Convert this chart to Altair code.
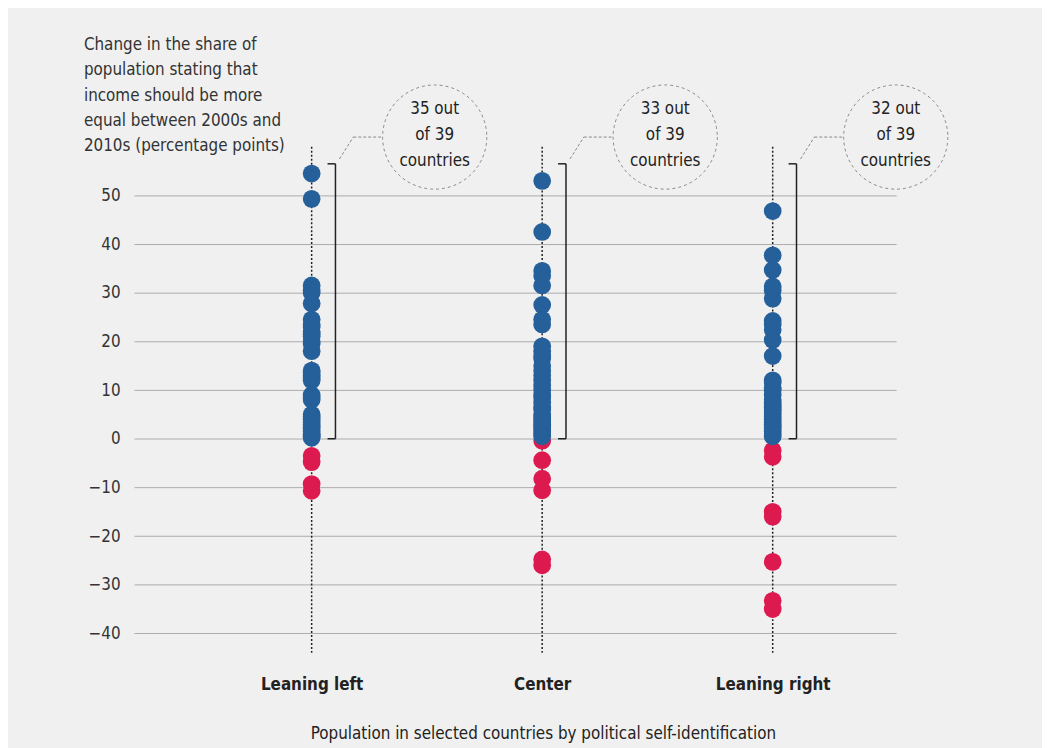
import altair as alt
import pandas as pd

FONT = "Liberation Sans Narrow, DejaVu Sans Condensed, Roboto, sans-serif"

GROUPS = ["Leaning left", "Center", "Leaning right"]

LEFT_VALUES = [54.5, 49.3, 31.5, 30.5, 30, 27.8, 24.5, 23.5, 23, 22, 21.5, 21, 20, 19.5, 18,
               14, 13.5, 13, 12.5, 12, 9, 8.5, 8, 5, 4.5, 4, 3.5, 3, 2.5, 2, 1.5, 1, 0.8, 0.5, 0.2,
               -3.5, -4.8, -9.3, -10.7]
CENTER_VALUES = [53, 42.5, 34.5, 33.5, 31.5, 27.5, 24.5, 23.5, 19, 18, 17, 16.5, 15, 14, 13, 12, 11, 10,
                 9, 8.5, 7.5, 6.5, 6, 5, 4.5, 4, 3.5, 3, 2.5, 2, 1.5, 1, 0.5,
                 -0.4, -4.4, -8.2, -10.6, -24.8, -26]
RIGHT_VALUES = [46.8, 37.7, 34.7, 31.3, 30.5, 28.8, 24.2, 23.5, 22.4, 20.3, 17, 12, 11.5, 10.5, 10, 9,
                8, 7.5, 7, 6.5, 6, 5.5, 5, 4.5, 4, 3.5, 3, 2.5, 2, 1.5, 1, 0.5,
                -2.4, -3.7, -15, -16, -25.3, -33.3, -35]

ANNOT_TEXT = ["35 out\nof 39\ncountries", "33 out\nof 39\ncountries", "32 out\nof 39\ncountries"]

Y_TICKS = [-40, -30, -20, -10, 0, 10, 20, 30, 40, 50]
Y_DOMAIN = [-44, 60]
BRACKET_TOP = 56.5
LEADER_LOW = 57.5
ANNOT_Y = 62

Y_TITLE = ["Change in the share of", "population stating that", "income should be more",
           "equal between 2000s and", "2010s (percentage points)"]
X_TITLE = "Population in selected countries by political self-identification"

BLUE = "#25609a"
RED = "#dd1a4f"

W, H = 768, 510

rows = []
for g, vals in zip(GROUPS, [LEFT_VALUES, CENTER_VALUES, RIGHT_VALUES]):
    for v in vals:
        rows.append({"group": g, "value": v, "sign": "pos" if v > 0 else "neg"})
dots = pd.DataFrame(rows)
dots["order"] = (dots["sign"] == "pos").astype(int)
dots = dots.sort_values("order")

groups_df = pd.DataFrame({"group": GROUPS})
brk_vert = pd.DataFrame({"group": GROUPS, "value": [BRACKET_TOP] * 3, "value2": [0] * 3})
brk_ticks = pd.DataFrame({"group": GROUPS * 2, "value": [BRACKET_TOP] * 3 + [0] * 3})
leader_diag = pd.DataFrame({"group": GROUPS, "value": [LEADER_LOW] * 3, "value2": [ANNOT_Y] * 3})
annot = pd.DataFrame({"group": GROUPS, "value": [ANNOT_Y] * 3, "label": ANNOT_TEXT})

X = alt.X(
    "group:N",
    sort=GROUPS,
    scale=alt.Scale(type="point", domain=GROUPS, padding=0.653, align=0.59),
    axis=alt.Axis(
        title=X_TITLE, titleFontSize=17, titleFontWeight="normal", titleFont=FONT,
        titleColor="#222", titleX=412, titlePadding=33,
        labelFont=FONT, labelFontSize=17, labelFontWeight="bold", labelColor="#222",
        labelPadding=24, domain=False, ticks=False, grid=False, labelAngle=0,
    ),
)
Y = alt.Y(
    "value:Q",
    scale=alt.Scale(domain=Y_DOMAIN, nice=False, zero=False),
    axis=alt.Axis(
        values=Y_TICKS, title=Y_TITLE, titleAngle=0, titleAlign="left", titleBaseline="top",
        titleX=-51, titleY=-111, titleFont=FONT, titleFontSize=17, titleFontWeight="normal",
        titleColor="#333", titleLineHeight=25.5,
        labelFont=FONT, labelFontSize=17, labelColor="#333", labelPadding=14,
        ticks=False, domain=False, grid=True, gridColor="#ababab", gridWidth=1,
    ),
)

stems = alt.Chart(groups_df).mark_rule(strokeDash=[2, 2], strokeWidth=1.5, color="#222").encode(
    x=X, y=alt.value(0), y2=alt.value(H)
)

points = alt.Chart(dots).mark_point(shape="circle", filled=True, size=320, opacity=1).encode(
    x=X, y=Y,
    color=alt.Color("sign:N", scale=alt.Scale(domain=["pos", "neg"], range=[BLUE, RED]), legend=None),
    order=alt.Order("order:Q"),
)

bracket_v = alt.Chart(brk_vert).mark_rule(color="#222", strokeWidth=1.5, xOffset=24).encode(
    x=X, y=Y, y2="value2:Q"
)
bracket_t = alt.Chart(brk_ticks).mark_rule(color="#222", strokeWidth=1.5, xOffset=16, x2Offset=24).encode(
    x=X, x2="group:N", y=Y
)
lead1 = alt.Chart(leader_diag).mark_rule(color="#888", strokeWidth=1, strokeDash=[3, 2],
                                         xOffset=28, x2Offset=42).encode(
    x=X, x2="group:N", y=Y, y2="value2:Q"
)
lead2 = alt.Chart(annot).mark_rule(color="#888", strokeWidth=1, strokeDash=[3, 2],
                                   xOffset=42, x2Offset=71).encode(
    x=X, x2="group:N", y=Y
)
circles = alt.Chart(annot).mark_point(shape="circle", filled=False, size=105 * 105, color="#888",
                                      strokeWidth=1, strokeDash=[3, 3], opacity=1, xOffset=124).encode(
    x=X, y=Y
)
texts = alt.Chart(annot).mark_text(lineBreak="\n", lineHeight=26, fontSize=17, font=FONT,
                                   align="center", baseline="middle", color="#222",
                                   xOffset=124, dy=-28).encode(
    x=X, y=Y, text="label:N"
)

chart = alt.layer(stems, bracket_v, bracket_t, lead1, lead2, circles, texts, points).properties(
    width=W, height=H,
    autosize=alt.AutoSizeParams(type="none"),
    padding={"left": 127, "top": 137, "right": 147, "bottom": 93},
    background="#f0f0f0",
).configure_view(stroke=None)

chart.save("out.html", embed_options={"renderer": "svg", "actions": False})
